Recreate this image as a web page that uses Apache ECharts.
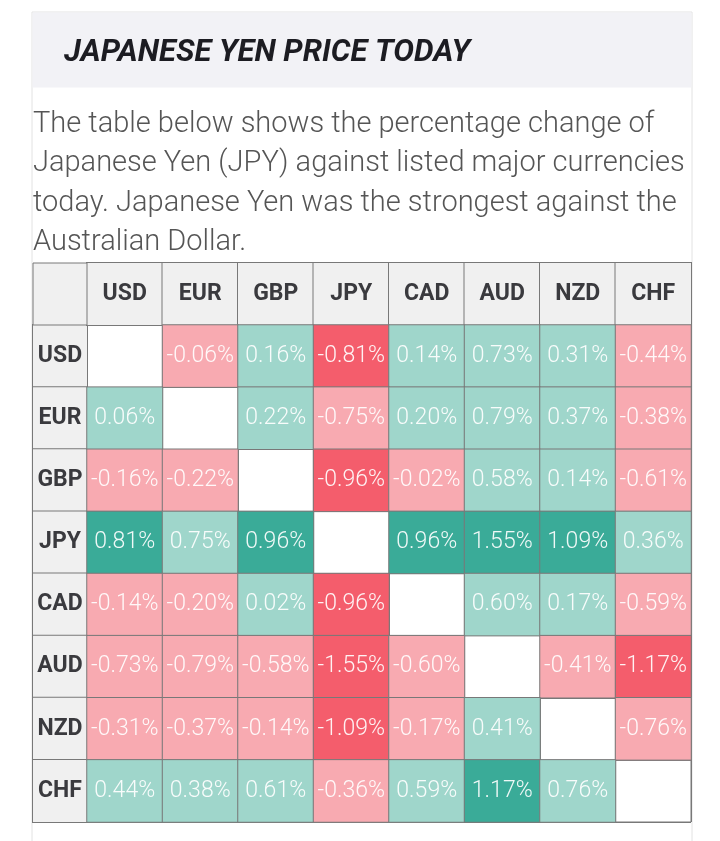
<!DOCTYPE html>
<html>
<head>
<meta charset="utf-8">
<script src="https://cdn.jsdelivr.net/npm/echarts@6/dist/echarts.min.js"></script>
<style>
html,body{margin:0;padding:0;background:#fff;}
#chart{width:720px;height:841px;}
</style>
</head>
<body>
<div id="chart"></div>
<script>
var titleText = 'JAPANESE YEN PRICE TODAY';
var introText = 'The table below shows the percentage change of\nJapanese Yen (JPY) against listed major currencies\ntoday. Japanese Yen was the strongest against the\nAustralian Dollar.';

var currencies = ['USD', 'EUR', 'GBP', 'JPY', 'CAD', 'AUD', 'NZD', 'CHF'];

var usdRow = [null, -0.06, 0.16, -0.81, 0.14, 0.73, 0.31, -0.44];
var eurRow = [0.06, null, 0.22, -0.75, 0.20, 0.79, 0.37, -0.38];
var gbpRow = [-0.16, -0.22, null, -0.96, -0.02, 0.58, 0.14, -0.61];
var jpyRow = [0.81, 0.75, 0.96, null, 0.96, 1.55, 1.09, 0.36];
var cadRow = [-0.14, -0.20, 0.02, -0.96, null, 0.60, 0.17, -0.59];
var audRow = [-0.73, -0.79, -0.58, -1.55, -0.60, null, -0.41, -1.17];
var nzdRow = [-0.31, -0.37, -0.14, -1.09, -0.17, 0.41, null, -0.76];
var chfRow = [0.44, 0.38, 0.61, -0.36, 0.59, 1.17, 0.76, null];

var rows = [usdRow, eurRow, gbpRow, jpyRow, cadRow, audRow, nzdRow, chfRow];

var cells = [];
rows.forEach(function (row, r) {
  row.forEach(function (v, c) {
    if (v !== null) cells.push([c, r, v]);
  });
});

var chart = echarts.init(document.getElementById('chart'), null, {renderer: 'canvas'});

var borderCol = '#787878';
var headBg = '#f0f0f0';
var font = 'Roboto, "Noto Sans", sans-serif';

chart.setOption({
  backgroundColor: '#fff',
  animation: false,
  graphic: [
    {type: 'rect', z: -10, shape: {x: 32, y: 12, width: 660, height: 850},
     style: {fill: '#fff', stroke: '#e2e2e2', lineWidth: 1}},
    {type: 'rect', z: -9, shape: {x: 32.5, y: 12.5, width: 659, height: 75},
     style: {fill: '#f2f2f6', stroke: 'none'}},
    {type: 'rect', z: 5, shape: {x: 33, y: 263, width: 54, height: 62},
     style: {fill: headBg, stroke: borderCol, lineWidth: 1}}
  ],
  title: [
    {text: titleText, left: 64, top: 38, padding: 0,
     textStyle: {fontFamily: font, fontSize: 31, fontWeight: 'bold', fontStyle: 'italic', color: '#1c1c22', lineHeight: 31}},
    {text: introText, left: 33, top: 105, padding: 0,
     textStyle: {fontFamily: font, fontSize: 29, fontWeight: 300, color: '#555', lineHeight: 39.3}}
  ],
  grid: {left: 87, right: 29, top: 325, bottom: 19, show: true, borderColor: borderCol, borderWidth: 1},
  xAxis: {
    type: 'category', position: 'top', data: currencies,
    axisLine: {show: false}, axisTick: {show: false},
    splitLine: {show: true, lineStyle: {color: borderCol, width: 1}},
    axisLabel: {
      interval: 0, margin: 31, verticalAlign: 'middle', align: 'center',
      width: 75.5, height: 62, lineHeight: 62, padding: 0,
      backgroundColor: headBg, borderColor: borderCol, borderWidth: 1,
      fontFamily: font, fontSize: 23, fontWeight: 'bold', color: '#3a3a3e'
    }
  },
  yAxis: {
    type: 'category', inverse: true, data: currencies,
    axisLine: {show: false}, axisTick: {show: false},
    splitLine: {show: true, lineStyle: {color: borderCol, width: 1}},
    axisLabel: {
      interval: 0, margin: 27, verticalAlign: 'middle', align: 'center',
      width: 54, height: 62, lineHeight: 62, padding: 0,
      backgroundColor: headBg, borderColor: borderCol, borderWidth: 1,
      fontFamily: font, fontSize: 23, fontWeight: 'bold', color: '#3a3a3e'
    }
  },
  visualMap: {
    type: 'piecewise', show: false, dimension: 2,
    pieces: [
      {lt: -0.8, color: '#f45d6c'},
      {gte: -0.8, lt: 0, color: '#f8aab1'},
      {gte: 0, lte: 0.8, color: '#9fd6cb'},
      {gt: 0.8, color: '#3aab98'}
    ]
  },
  series: [{
    type: 'heatmap',
    data: cells,
    itemStyle: {borderColor: borderCol, borderWidth: 1},
    label: {
      show: true,
      formatter: function (p) { return p.value[2].toFixed(2) + '%'; },
      fontFamily: font, fontSize: 23, fontWeight: 300, color: 'rgba(255,255,255,0.92)'
    },
    emphasis: {disabled: true}
  }]
});
</script>
</body>
</html>
